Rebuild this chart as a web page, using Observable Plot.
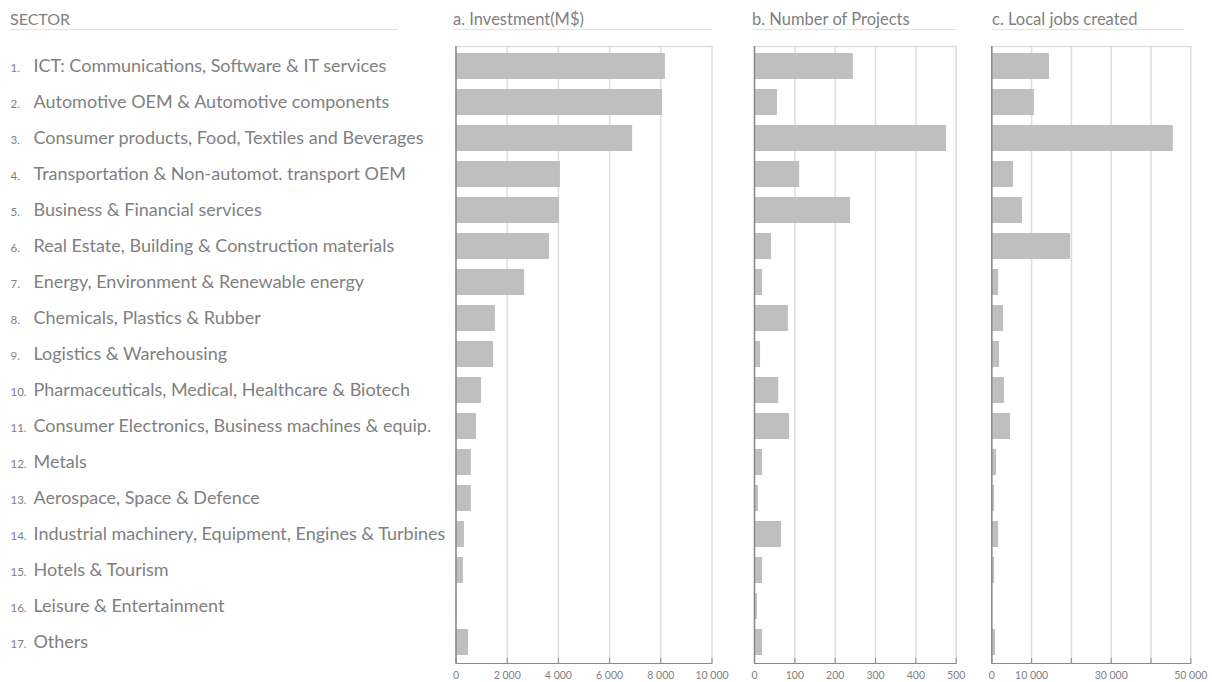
<!DOCTYPE html>
<html>
<head>
<meta charset="utf-8">
<script src="https://cdn.jsdelivr.net/npm/d3@7"></script>
<script src="https://cdn.jsdelivr.net/npm/@observablehq/plot@0.6"></script>
<style>
  body { margin: 0; background: #fff; font-family: Lato, "Open Sans", sans-serif; }
  #chart { position: relative; width: 1212px; height: 682px; overflow: hidden; }
  .panel { position: absolute; top: 0; }
  .head { position: absolute; top: 9px; height: 20px; line-height: 20px; color: #7f7f7f;
          font-size: 16.5px; border-bottom: 1.5px solid #e2e2e2; white-space: nowrap; }
  .head.sector { font-size: 16px; }
</style>
</head>
<body>
<div id="chart"></div>
<script>
// Sector names, in ranking order
const sectors = [
  "ICT: Communications, Software & IT services",
  "Automotive OEM & Automotive components",
  "Consumer products, Food, Textiles and Beverages",
  "Transportation & Non-automot. transport OEM",
  "Business & Financial services",
  "Real Estate, Building & Construction materials",
  "Energy, Environment & Renewable energy",
  "Chemicals, Plastics & Rubber",
  "Logistics & Warehousing",
  "Pharmaceuticals, Medical, Healthcare & Biotech",
  "Consumer Electronics, Business machines & equip.",
  "Metals",
  "Aerospace, Space & Defence",
  "Industrial machinery, Equipment, Engines & Turbines",
  "Hotels & Tourism",
  "Leisure & Entertainment",
  "Others"
];

// a. Investment (M$)
const investment = [8180, 8070, 6900, 4080, 4040, 3650, 2680, 1540, 1470, 1000, 800, 600, 600, 330, 290, 40, 490];
// b. Number of projects
const projects = [245, 57, 476, 112, 238, 42, 20, 84, 15, 60, 87, 20, 10, 67, 20, 7, 20];
// c. Local jobs created
const jobs = [14500, 10700, 45600, 5450, 7700, 19800, 1700, 2950, 1950, 3200, 4700, 1200, 700, 1700, 700, 150, 950];

const headers = ["SECTOR", "a. Investment(M$)", "b. Number of Projects", "c. Local jobs created"];

// Axis ticks and the subset that carries a label
const investTicks = [0, 2000, 4000, 6000, 8000, 10000];
const investTickLabels = [0, 2000, 4000, 6000, 8000, 10000];
const projectTicks = [0, 100, 200, 300, 400, 500];
const projectTickLabels = [0, 100, 200, 300, 400, 500];
const jobTicks = [0, 10000, 20000, 30000, 40000, 50000];
const jobTickLabels = [0, 10000, 30000, 50000];

const ranks = sectors.map((_, i) => i + 1);
const rows = sectors.map((name, i) => ({rank: i + 1, name, investment: investment[i], projects: projects[i], jobs: jobs[i]}));

// thousands separated by a space: 10 000
const fmtSpace = d3.formatLocale({decimal: ".", thousands: " ", grouping: [3], currency: ["", ""]}).format(",");

const textColor = "#7f7f7f";
const barColor = "#bfbfbf";
const gridColor = "#dedede";
const axisColor = "#8a8a8a";

const H = 682, MT = 46, MB = 19;
const yScale = {type: "band", domain: ranks, paddingInner: 0.265, paddingOuter: 0.13, axis: null};
const baseStyle = {fontFamily: "Lato, 'Open Sans', sans-serif", background: "transparent", overflow: "visible", color: textColor};

const chart = document.getElementById("chart");

function place(node, left) {
  node.classList.add("panel");
  node.style.left = left + "px";
  chart.appendChild(node);
}

// Sector labels with their rank numbers
const labels = Plot.plot({
  width: 450, height: H, marginTop: MT, marginBottom: MB, marginLeft: 33, marginRight: 0,
  style: baseStyle,
  y: yScale,
  marks: [
    Plot.text(rows, {y: "rank", text: "name", frameAnchor: "left", textAnchor: "start", fontSize: 18, fill: textColor}),
    Plot.text(rows, {y: "rank", text: d => d.rank + ".", frameAnchor: "left", textAnchor: "start", dx: -23, dy: 2, fontSize: 11.5, fill: textColor})
  ]
});
place(labels, 0);

function panel({key, domain, range, width, ticks, tickLabels}) {
  return Plot.plot({
    width, height: H, marginTop: MT, marginBottom: MB, marginLeft: range[0], marginRight: width - range[1],
    style: baseStyle,
    y: yScale,
    x: {domain, range, axis: null},
    marks: [
      Plot.ruleX(ticks, {stroke: gridColor, strokeWidth: 1.5}),
      Plot.frame({anchor: "top", stroke: gridColor, strokeWidth: 1.5}),
      Plot.barX(rows, {x: key, y: "rank", fill: barColor}),
      Plot.ruleX([0], {stroke: axisColor, strokeWidth: 1.5}),
      Plot.frame({anchor: "bottom", stroke: axisColor, strokeWidth: 1.2}),
      Plot.axisX(ticks, {anchor: "bottom", tickSize: -5, stroke: axisColor, text: null, label: null}),
      Plot.axisX(tickLabels, {anchor: "bottom", tickSize: 0, tickPadding: 8, tickFormat: fmtSpace, fontSize: 10.5, fill: textColor, label: null})
    ]
  });
}

place(panel({key: "investment", domain: [0, 10000], range: [15.5, 271.5], width: 300, ticks: investTicks, tickLabels: investTickLabels}), 440);
place(panel({key: "projects", domain: [0, 500], range: [14, 215.7], width: 235, ticks: projectTicks, tickLabels: projectTickLabels}), 740);
place(panel({key: "jobs", domain: [0, 50000], range: [11.3, 210.3], width: 232, ticks: jobTicks, tickLabels: jobTickLabels}), 980);

// Column headers with their rules
const headSpecs = [
  {left: 10, width: 388, cls: "head sector"},
  {left: 453, width: 259, cls: "head"},
  {left: 752, width: 204, cls: "head"},
  {left: 992, width: 192, cls: "head"}
];
headers.forEach((t, i) => {
  const d = document.createElement("div");
  d.className = headSpecs[i].cls;
  d.style.left = headSpecs[i].left + "px";
  d.style.width = headSpecs[i].width + "px";
  d.textContent = t;
  chart.appendChild(d);
});
</script>
</body>
</html>
